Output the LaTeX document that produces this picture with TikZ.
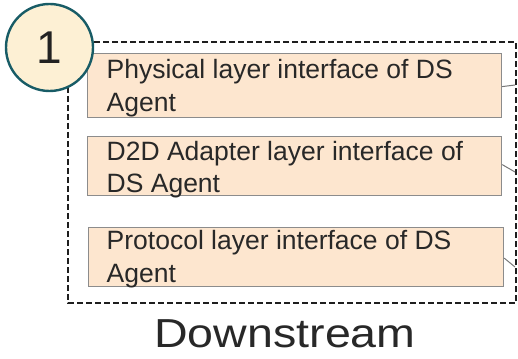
\documentclass[tikz,border=0pt]{standalone}
\usepackage{fontspec}
\setmainfont{Liberation Sans}
\begin{document}
\begin{tikzpicture}[x=1pt,y=-1pt,
  layerbox/.style={draw={rgb,255:red,140;green,140;blue,140},line width=1.2pt,
    fill={rgb,255:red,253;green,230;blue,207},rectangle,inner sep=0pt},
  layertext/.style={anchor=base west,inner sep=0pt,text={rgb,255:red,40;green,40;blue,40},
    font=\fontsize{26.5}{32.7}\selectfont},
  frame/.style={draw={rgb,255:red,30;green,30;blue,30},line width=2.6pt,dash pattern=on 6pt off 3pt},
  link/.style={draw={rgb,255:red,120;green,120;blue,120},line width=1pt},
  badge/.style={circle,draw={rgb,255:red,24;green,92;blue,102},line width=2.4pt,
    fill={rgb,255:red,253;green,240;blue,212},minimum size=87pt,inner sep=0pt,
    text={rgb,255:red,34;green,34;blue,34},font=\fontsize{46}{46}\selectfont}
]
\useasboundingbox (0,0) rectangle (518,358);

% dashed enclosure of the downstream interfaces
\draw[frame] (68,42) rectangle (516,303);

% interface boxes
\node[layerbox,minimum width=414pt,minimum height=64pt,anchor=north west] (b1) at (87,53) {};
\node[layerbox,minimum width=414pt,minimum height=59pt,anchor=north west] (b2) at (87,136) {};
\node[layerbox,minimum width=415pt,minimum height=59pt,anchor=north west] (b3) at (88,227) {};

\node[layertext] (t1a) at (106.5,79) {Physical layer interface of DS};
\node[layertext] (t1b) at (106.5,111.7) {Agent};
\node[layertext] (t2a) at (106.5,160.5) {D2D Adapter layer interface of};
\node[layertext] (t2b) at (106.5,192.7) {DS Agent};
\node[layertext] (t3a) at (106.5,249.5) {Protocol layer interface of DS};
\node[layertext] (t3b) at (106.5,282) {Agent};

% short links from each box to the frame
\coordinate (c1) at (515,85);
\coordinate (c2) at (515,172);
\coordinate (c3) at (515,267);
\draw[link] ([yshift=-1pt]b1.east) -- (c1);
\draw[link] ([yshift=1.5pt]b2.east) -- (c2);
\draw[link] ([yshift=-1pt]b3.east) -- (c3);

% numbered badge
\node[badge] (n1) at (49.5,47.5) {1};

% caption
\node[anchor=base,inner sep=0pt,text={rgb,255:red,40;green,40;blue,40},
  font=\fontsize{40.5}{40.5}\selectfont] (cap) at (285,347) {\scalebox{1.15}[1]{Downstream}};
\end{tikzpicture}
\end{document}
